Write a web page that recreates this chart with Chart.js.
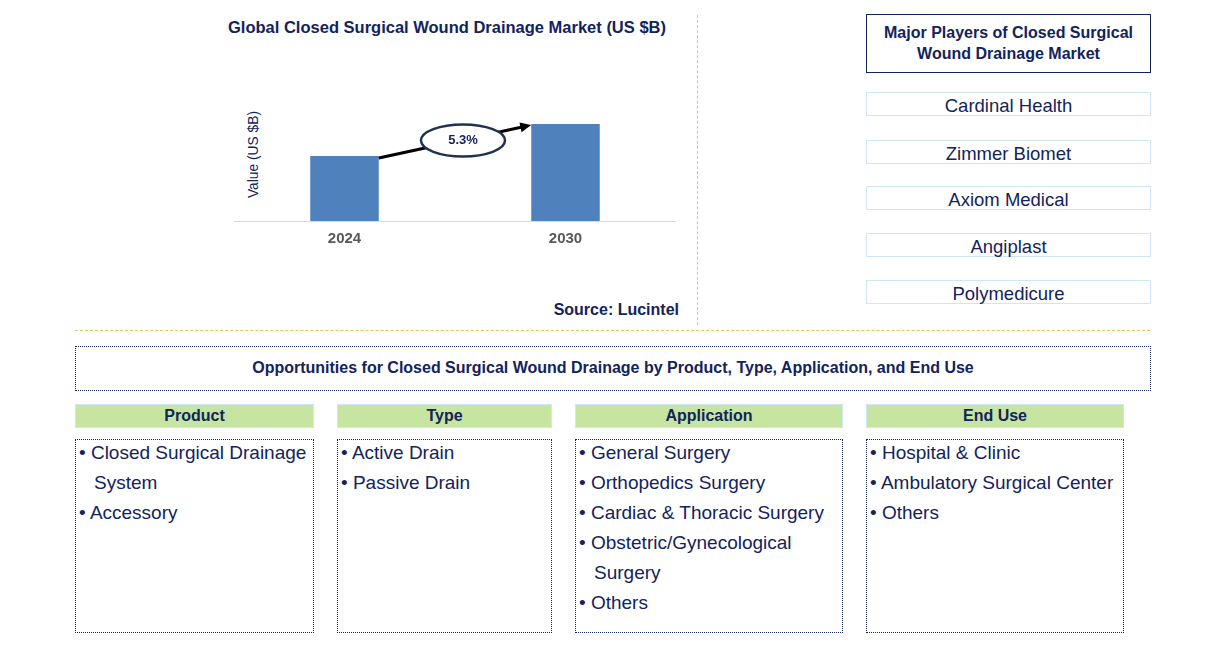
<!DOCTYPE html>
<html>
<head>
<meta charset="utf-8">
<script src="https://cdn.jsdelivr.net/npm/chart.js@4.4.0/dist/chart.umd.min.js"></script>
<style>
    body {
        margin: 0;
        width: 1215px;
        height: 653px;
        background: #ffffff;
        font-family: "Liberation Sans", Arial, sans-serif;
        color: #13235b;
        position: relative;
        overflow: hidden;
    }
    .abs { position: absolute; }
    .chartTitle {
        left: 180px; top: 18px; width: 534px;
        text-align: center; font-weight: bold; font-size: 16.5px;
    }
    .yLabel {
        left: 205px; top: 147px; width: 96px;
        text-align: center; font-size: 13.8px;
        transform: rotate(-90deg);
    }
    .source {
        left: 500px; top: 301px; width: 179px;
        text-align: right; font-weight: bold; font-size: 16px;
    }
    .vline {
        left: 697px; top: 15px; height: 310px;
        border-left: 1px dashed #f2c14e;
    }
    .hline {
        left: 75px; top: 330px; width: 1075px;
        border-top: 1px dashed #f2c14e;
    }
    .playersHead {
        left: 866px; top: 14px; width: 285px; height: 59px;
        border: 1.5px solid #13235b; box-sizing: border-box;
        text-align: center; font-weight: bold; font-size: 16px;
        line-height: 21px; padding-top: 7px;
    }
    .player {
        left: 866px; width: 285px; height: 24px;
        border: 1.5px solid #cfe6f6; box-sizing: border-box;
        text-align: center; font-size: 18.5px; line-height: 25px;
    }
    .oppBox {
        left: 75px; top: 346px; width: 1076px; height: 45px;
        border: 1px dotted #13235b; box-sizing: border-box;
        text-align: center; font-weight: bold; font-size: 16px; line-height: 42px;
    }
    .colHead {
        top: 404px; height: 24px;
        background: #c6e5a1; border: 1px solid #cfe6f6; box-sizing: border-box;
        text-align: center; font-weight: bold; font-size: 16px; line-height: 22px;
    }
    .colBox {
        top: 439px; height: 194px;
        border: 1px dotted #13235b; box-sizing: border-box;
        font-size: 19px; line-height: 30px; padding-top: 0;
    }
    .colBox div { white-space: nowrap; padding-left: 3px; margin-top: -2px; margin-bottom: 2px; }
    .colBox .cont { padding-left: 18px; }
</style>
</head>
<body>

<div class="abs chartTitle">Global Closed Surgical Wound Drainage Market (US $B)</div>
<div class="abs yLabel">Value (US $B)</div>
<div class="abs" style="left:234px; top:21px; width:442px; height:230px;">
    <canvas id="marketCanvas" width="442" height="230"></canvas>
</div>
<div class="abs source">Source: Lucintel</div>
<div class="abs vline"></div>
<div class="abs hline"></div>

<div class="abs playersHead">Major Players of Closed Surgical<br>Wound Drainage Market</div>
<div id="players"></div>

<div class="abs oppBox">Opportunities for Closed Surgical Wound Drainage by Product, Type, Application, and End Use</div>
<div id="segments"></div>

<script>
// chart data
const years = ['2024', '2030'];
const marketValues = [1.30, 1.94];
const cagrLabel = '5.3%';

// side panel text
const players = ['Cardinal Health', 'Zimmer Biomet', 'Axiom Medical', 'Angiplast', 'Polymedicure'];
const playerTops = [92, 140, 186, 233, 280];

const segmentTitles = ['Product', 'Type', 'Application', 'End Use'];
const productItems = [['Closed Surgical Drainage', 'System'], ['Accessory']];
const typeItems = [['Active Drain'], ['Passive Drain']];
const applicationItems = [['General Surgery'], ['Orthopedics Surgery'], ['Cardiac & Thoracic Surgery'], ['Obstetric/Gynecological', 'Surgery'], ['Others']];
const endUseItems = [['Hospital & Clinic'], ['Ambulatory Surgical Center'], ['Others']];
const segmentLefts = [75, 337, 575, 866];
const segmentWidths = [239, 215, 268, 258];

function buildPlayers() {
    const holder = document.getElementById('players');
    players.forEach((name, i) => {
        const div = document.createElement('div');
        div.className = 'abs player';
        div.style.top = playerTops[i] + 'px';
        div.textContent = name;
        holder.appendChild(div);
    });
}

function buildSegments() {
    const holder = document.getElementById('segments');
    const lists = [productItems, typeItems, applicationItems, endUseItems];
    segmentTitles.forEach((title, i) => {
        const head = document.createElement('div');
        head.className = 'abs colHead';
        head.style.left = segmentLefts[i] + 'px';
        head.style.width = segmentWidths[i] + 'px';
        head.textContent = title;
        holder.appendChild(head);

        const box = document.createElement('div');
        box.className = 'abs colBox';
        box.style.left = segmentLefts[i] + 'px';
        box.style.width = segmentWidths[i] + 'px';
        lists[i].forEach(item => {
            item.forEach((line, j) => {
                const row = document.createElement('div');
                if (j === 0) {
                    row.textContent = '\u2022 ' + line;
                } else {
                    row.className = 'cont';
                    row.textContent = line;
                }
                box.appendChild(row);
            });
        });
        holder.appendChild(box);
    });
}

// arrow + ellipse between the two bars
const cagrPlugin = {
    id: 'cagrArrow',
    afterDatasetsDraw(chart) {
        const meta = chart.getDatasetMeta(0);
        const b1 = meta.data[0];
        const b2 = meta.data[1];
        const ctx = chart.ctx;
        const x1 = b1.x + b1.width / 2;
        const y1 = b1.y + 2;
        const x2 = b2.x - b2.width / 2;
        const y2 = b2.y + 1;
        const ang = Math.atan2(y2 - y1, x2 - x1);

        ctx.save();
        ctx.strokeStyle = '#000000';
        ctx.fillStyle = '#000000';
        ctx.lineWidth = 3;
        ctx.beginPath();
        ctx.moveTo(x1, y1);
        ctx.lineTo(x2 - 8 * Math.cos(ang), y2 - 8 * Math.sin(ang));
        ctx.stroke();
        ctx.beginPath();
        ctx.moveTo(x2, y2);
        ctx.lineTo(x2 - 11 * Math.cos(ang) + 5 * Math.sin(ang), y2 - 11 * Math.sin(ang) - 5 * Math.cos(ang));
        ctx.lineTo(x2 - 11 * Math.cos(ang) - 5 * Math.sin(ang), y2 - 11 * Math.sin(ang) + 5 * Math.cos(ang));
        ctx.closePath();
        ctx.fill();

        const cx = (x1 + x2) / 2 + 8;
        const cy = (y1 + y2) / 2 - 1;
        ctx.beginPath();
        ctx.ellipse(cx, cy, 42, 16, 0, 0, Math.PI * 2);
        ctx.fillStyle = '#ffffff';
        ctx.fill();
        ctx.lineWidth = 2.5;
        ctx.strokeStyle = '#1f3350';
        ctx.stroke();

        ctx.fillStyle = '#13235b';
        ctx.font = 'bold 13px "Liberation Sans", Arial, sans-serif';
        ctx.textAlign = 'center';
        ctx.textBaseline = 'middle';
        ctx.fillText(cagrLabel, cx, cy);
        ctx.restore();
    }
};

function createMarketChart() {
    const ctx = document.getElementById('marketCanvas').getContext('2d');
    new Chart(ctx, {
        type: 'bar',
        data: {
            labels: years,
            datasets: [{
                data: marketValues,
                backgroundColor: '#4f81bd',
                barPercentage: 0.62,
                categoryPercentage: 0.5
            }]
        },
        options: {
            responsive: false,
            animation: false,
            layout: { padding: 0 },
            plugins: {
                legend: { display: false },
                tooltip: { enabled: false }
            },
            scales: {
                x: {
                    grid: { display: false },
                    border: { display: true, color: '#d9d9d9', width: 1 },
                    ticks: {
                        color: '#595959',
                        padding: 1,
                        font: { family: '"Liberation Sans", Arial, sans-serif', size: 15, weight: 'bold' }
                    },
                    afterFit: function(scale) { scale.height = 30; }
                },
                y: {
                    display: false,
                    min: 0,
                    max: 4
                }
            }
        },
        plugins: [cagrPlugin]
    });
}

buildPlayers();
buildSegments();
createMarketChart();
</script>
</body>
</html>
